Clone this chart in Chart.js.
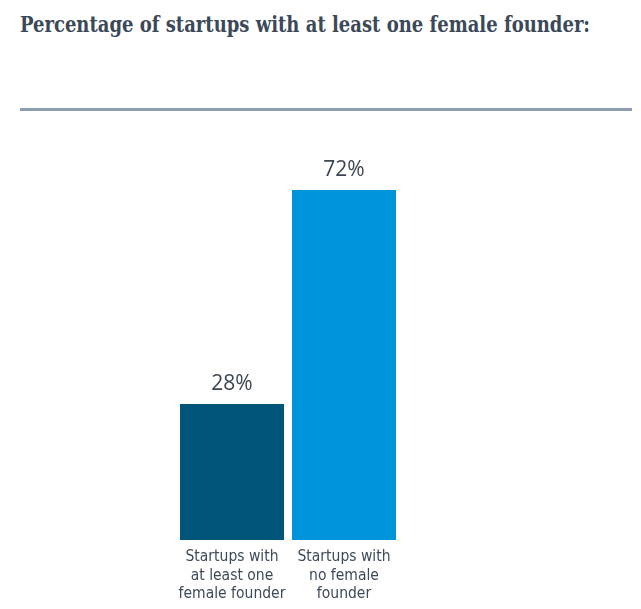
<!DOCTYPE html>
<html>
<head>
<meta charset="utf-8">
<script src="https://cdn.jsdelivr.net/npm/chart.js@4"></script>
<style>
  html, body { margin: 0; padding: 0; background: #fff; }
  #wrap { position: relative; width: 641px; height: 609px; overflow: hidden; }
  #title {
    position: absolute; left: 20px; top: 10px; margin: 0;
    font-family: "DejaVu Serif Condensed", "DejaVu Serif", serif;
    font-weight: bold; font-size: 23px; color: #3b4858; white-space: nowrap;
    transform: scaleX(0.87); transform-origin: left top;
  }
  #rule { position: absolute; left: 20px; top: 108px; width: 612px; height: 3px; background: #8d9db0; }
  #chart { position: absolute; left: 0; top: 0; }
</style>
</head>
<body>
<div id="wrap">
  <h1 id="title">Percentage of startups with at least one female founder:</h1>
  <div id="rule"></div>
  <canvas id="chart" width="641" height="609"></canvas>
</div>
<script>
// ── Data ──
var categories = [
  ['Startups with', 'at least one', 'female founder'],
  ['Startups with', 'no female', 'founder']
];
var shares = [28, 72];
var barColors = ['#00567a', '#0095da'];

// value labels above bars + category labels under them
var labelPlugin = {
  id: 'labels',
  afterDatasetsDraw: function(chart) {
    var ctx = chart.ctx;
    var meta = chart.getDatasetMeta(0);
    var xs = chart.scales.x;
    ctx.save();
    ctx.textAlign = 'center';
    meta.data.forEach(function(bar, i) {
      ctx.fillStyle = '#3d4752';
      ctx.font = '21px "Open Sans", sans-serif';
      ctx.textBaseline = 'alphabetic';
      ctx.fillText(shares[i] + '%', bar.x, bar.y - 14);

      var cx = xs.getPixelForValue(i);
      ctx.fillStyle = '#3d4a5a';
      ctx.font = '15.5px "Liberation Sans Narrow", "DejaVu Sans Condensed", sans-serif';
      ctx.textBaseline = 'middle';
      categories[i].forEach(function(line, j) {
        ctx.fillText(line, cx, chart.chartArea.bottom + 17 + j * 18.5);
      });
    });
    ctx.restore();
  }
};

new Chart(document.getElementById('chart'), {
  type: 'bar',
  data: {
    labels: categories.map(function(c) { return c.join(' '); }),
    datasets: [{
      data: shares,
      backgroundColor: barColors,
      borderWidth: 0,
      categoryPercentage: 1,
      barPercentage: 0.9286
    }]
  },
  options: {
    responsive: false,
    animation: false,
    layout: { padding: { left: 176, right: 241, top: 54, bottom: 69 } },
    plugins: { legend: { display: false }, tooltip: { enabled: false } },
    scales: {
      x: { display: false },
      y: { display: false, min: 0, max: 100 }
    }
  },
  plugins: [labelPlugin]
});
</script>
</body>
</html>
